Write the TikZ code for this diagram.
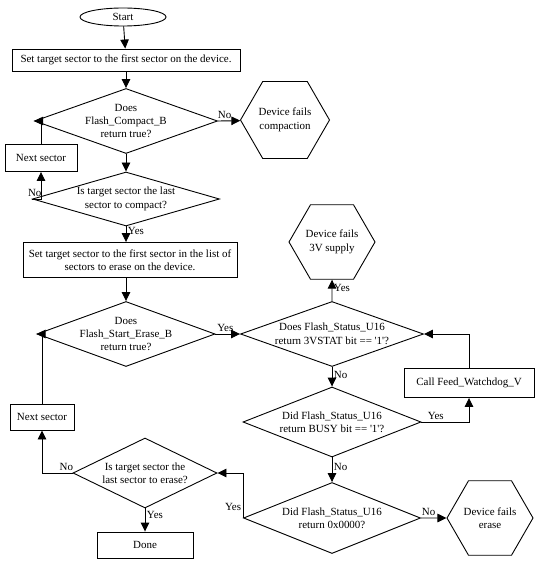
\documentclass[tikz,border=0pt]{standalone}
\usepackage{fontspec}
\setmainfont{Liberation Serif}
\usepackage{tikz}
\usetikzlibrary{arrows.meta,shapes.geometric,positioning}
\tikzset{
    term/.style={
    ellipse,draw=black,minimum width=86bp,minimum height=18bp,inner sep=0pt
    },
    proc/.style={
    rectangle,draw=black,minimum height=26bp,inner sep=2pt,align=center
    },
    decis/.style={
    diamond,draw=black,inner sep=-6bp,align=center
    },
    fail/.style={
    regular polygon,regular polygon sides=6,draw=black,minimum size=86bp,inner sep=0pt,align=center
    },
  line/.style={draw, -{Triangle[length=9bp,width=8.5bp]}},
  lab/.style={inner sep=1.5pt},
}
\begin{document}
\begin{tikzpicture}[x=1bp,y=-1bp,line width=0.9bp,font=\fontsize{11}{13.5}\selectfont]
\useasboundingbox (0,0) rectangle (549,573);

  % left column
  \node[term] (start) at (123,17) {Start};
  \node[proc,minimum width=228bp,minimum height=22bp] (set1) at (126,60) {Set target sector to the first sector on the device.};
  \node[decis,aspect=2.8,minimum width=183bp,minimum height=65bp] (dcomp) at (126,121) {Does\\Flash\_Compact\_B\\return true?};
  \node[fail,minimum size=89bp] (failcomp) at (285,120) {Device fails\\compaction};
  \node[proc,minimum width=72bp,minimum height=27bp] (next1) at (41,158) {Next sector};
  \node[decis,aspect=3.4,minimum width=187bp,minimum height=54bp] (dlast1) at (126,199) {Is target sector the last\\sector to compact?};
  \node[proc,minimum width=214bp,minimum height=35bp] (set2) at (130,260) {Set target sector to the first sector in the list of\\sectors to erase on the device.};
  \node[decis,aspect=2.7,minimum width=178bp,minimum height=65bp] (derase) at (126,334) {Does\\Flash\_Start\_Erase\_B\\return true?};
  \node[proc,minimum width=64bp] (next2) at (42,417) {Next sector};
  \node[decis,aspect=2.05,minimum width=144bp,minimum height=70bp] (dlast2) at (145,473) {Is target sector the\\last sector to erase?};
  \node[proc,minimum width=96bp] (done) at (145,545) {Done};

  % right column
  \node[fail] (fail3v) at (332,242) {Device fails\\3V supply};
  \node[decis,aspect=2.8,minimum width=183bp,minimum height=65bp] (dstat) at (332,334) {Does Flash\_Status\_U16\\return 3VSTAT bit == \textquotesingle 1\textquotesingle ?};
  \node[proc,minimum width=130bp,minimum height=29bp] (feed) at (469,383) {Call Feed\_Watchdog\_V};
  \node[decis,aspect=2.55,minimum width=178bp,minimum height=70bp] (dbusy) at (332,422) {Did Flash\_Status\_U16\\return BUSY bit == \textquotesingle 1\textquotesingle ?};
  \node[decis,aspect=2.5,minimum width=177bp,minimum height=71bp] (dzero) at (332,518) {Did Flash\_Status\_U16\\return 0x0000?};
  \node[fail] (failerase) at (490,518) {Device fails\\erase};

  \path[line] (start) -- (set1);
  \path[line] (set1) -- (dcomp);
  \path[line] (dcomp.east) -- node[lab,above,pos=0.3] {No} (failcomp);
  \path[line] (dcomp.south) -- (dlast1.north);
  \path[line] (dlast1.west) -| node[lab,above,pos=0.15] {No} (next1.south);
  \path[line] (next1.north) |- (dcomp.west);
  \path[line] (dlast1.south) -- node[lab,right,pos=0.3] {Yes} (dlast1.south |- set2.north);
  \path[line] (set2.south -| dlast1.south) -- (derase.north);
  \path[line] (derase.east) -- node[lab,above,pos=0.4] {Yes} (dstat.west);
  \path[line] (dstat.north) -- node[lab,right,pos=0.6] {Yes} (fail3v);
  \path[line] (dstat.south) -- node[lab,right,pos=0.4] {No} (dbusy.north);
  \path[line] (dbusy.east) -| node[lab,above,pos=0.15] {Yes} (feed.south);
  \path[line] (feed.north) |- (dstat.east);
  \path[line] (dbusy.south) -- node[lab,right,pos=0.4] {No} (dzero.north);
  \path[line] (dzero.east) -- node[lab,above,pos=0.3] {No} (failerase);
  \path[line] (dzero.west) |- node[lab,left,pos=0.12] {Yes} (dlast2.east);
  \path[line] (dlast2.west) -| node[lab,above,pos=0.1] {No} (next2.south);
  \path[line] (next2.north) |- (derase.west);
  \path[line] (dlast2.south) -- node[lab,right,pos=0.3] {Yes} (done);
\end{tikzpicture}
\end{document}
